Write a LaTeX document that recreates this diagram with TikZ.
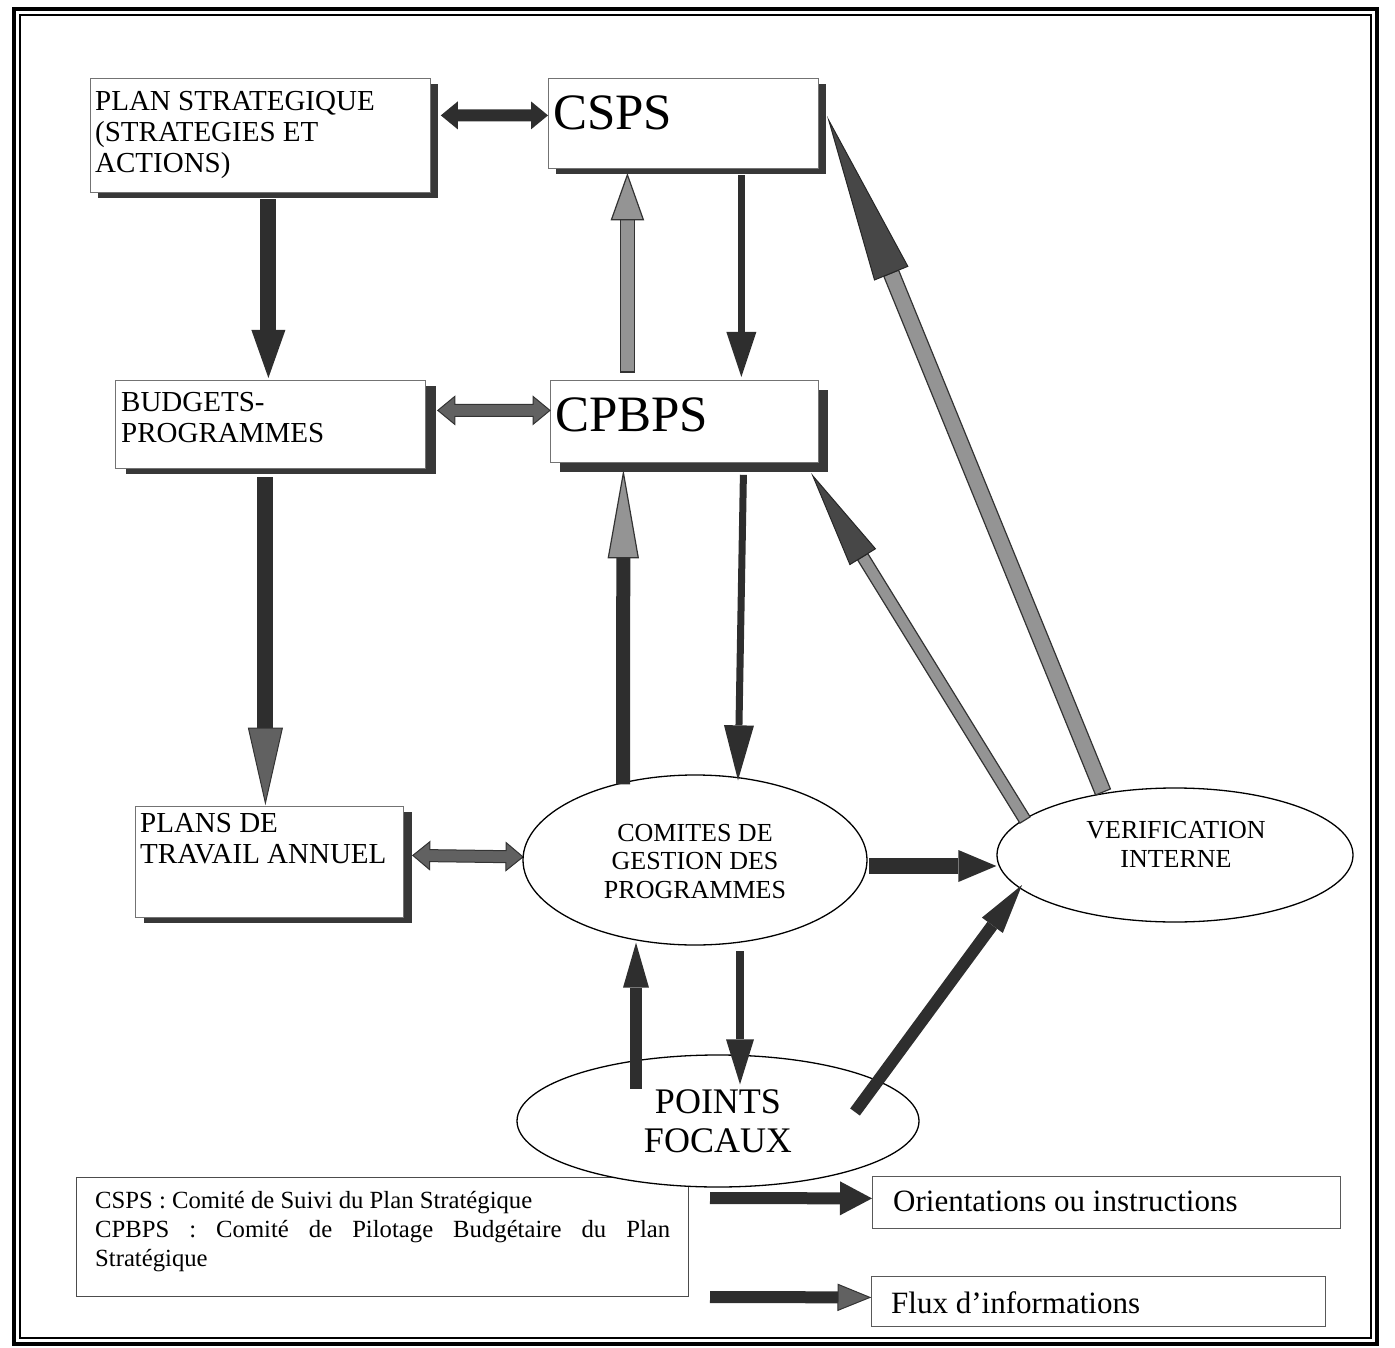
\documentclass[tikz,border=0pt]{standalone}
\usepackage{fontspec}
\setmainfont{Liberation Serif}
\usetikzlibrary{calc,shapes.geometric,shadows}

% single block arrow: #1 shaft style, #2 head style, #3 from, #4 to, #5 shaft half width, #6 head half width, #7 head length
\newcommand\blockarr[7]{%
  \coordinate (ba-s) at (#3);
  \coordinate (ba-e) at (#4);
  \coordinate (ba-h) at ($(ba-e)!#7!(ba-s)$);
  \path[#1] ($(ba-s)!#5!90:(ba-e)$) -- ($(ba-h)!#5!90:(ba-e)$) -- ($(ba-h)!#5!-90:(ba-e)$) -- ($(ba-s)!#5!-90:(ba-e)$) -- cycle;
  \path[#2] ($(ba-h)!#6!90:(ba-e)$) -- (ba-e) -- ($(ba-h)!#6!-90:(ba-e)$) -- cycle;
}
% double block arrow: #1 style, #2 from, #3 to, #4 shaft half width, #5 head half width, #6 head length
\newcommand\dblockarr[6]{%
  \coordinate (da-s) at (#2);
  \coordinate (da-e) at (#3);
  \coordinate (da-h1) at ($(da-s)!#6!(da-e)$);
  \coordinate (da-h2) at ($(da-e)!#6!(da-s)$);
  \path[#1] (da-s) -- ($(da-h1)!#5!90:(da-e)$) -- ($(da-h1)!#4!90:(da-e)$) -- ($(da-h2)!#4!90:(da-e)$)
    -- ($(da-h2)!#5!90:(da-e)$) -- (da-e) -- ($(da-h2)!#5!-90:(da-e)$) -- ($(da-h2)!#4!-90:(da-e)$)
    -- ($(da-h1)!#4!-90:(da-e)$) -- ($(da-h1)!#5!-90:(da-e)$) -- cycle;
}

\tikzset{
  boxsty/.style={draw=black!55, line width=0.8pt, fill=white, rectangle, inner sep=0pt, anchor=north west},
  shadowed/.style={drop shadow={shadow xshift=#1, shadow yshift=-6pt, fill=black!78, opacity=1}},
  ellsty/.style={draw=black, line width=1.3pt, fill=white, ellipse, inner sep=0pt},
  darkfill/.style={fill=black!82},
  grayfill/.style={fill=black!42, draw=black!80, line width=1.2pt},
  midfill/.style={fill=black!62, draw=black!80, line width=1pt},
  headdark/.style={fill=black!72, draw=black!85, line width=1pt},
  txt/.style={inner sep=0pt, align=left, anchor=north west},
  ctxt/.style={inner sep=0pt, align=center, anchor=north},
  bigbox/.style={font=\fontsize{29}{31}\selectfont},
  hugetxt/.style={font=\fontsize{51}{55}\selectfont},
  elltxt/.style={font=\fontsize{26}{28.5}\selectfont},
}

\begin{document}
\begin{tikzpicture}[x=1pt,y=-1pt]
\useasboundingbox (0,0) rectangle (1395,1348);

% frame
\draw[line width=4.5pt] (14,9) rectangle (1377,1344);
\draw[line width=1.2pt] (20,15) rectangle (1371,1338);

% boxes
\node[boxsty, shadowed=8pt, minimum width=340pt, minimum height=114pt] (plan) at (90,78) {};
\node[boxsty, shadowed=8pt, minimum width=270pt, minimum height=90pt] (csps) at (548,78) {};
\node[boxsty, shadowed=11pt, minimum width=310pt, minimum height=88pt] (budg) at (115,380) {};
\node[boxsty, minimum width=268pt, minimum height=82pt, drop shadow={shadow xshift=10pt, shadow yshift=-10pt, fill=black!78, opacity=1}] (cpbps) at (550,380) {};
\node[boxsty, shadowed=9pt, minimum width=268pt, minimum height=111pt] (plans) at (135,806) {};
\node[boxsty, draw=black!70, minimum width=612pt, minimum height=119pt] (legend) at (76,1177) {};
\node[boxsty, draw=black!65, minimum width=468pt, minimum height=52pt] (orient) at (872,1176) {};
\node[boxsty, draw=black!65, minimum width=454pt, minimum height=50pt] (flux) at (871,1276) {};

% box texts
\node[txt, bigbox] (plantxt) at (95,91) {PLAN STRATEGIQUE\\(STRATEGIES ET\\ACTIONS)};
\node[txt, hugetxt] (cspstxt) at (553,96) {CSPS};
\node[txt, bigbox] (budgtxt) at (121,392) {BUDGETS-\\PROGRAMMES};
\node[txt, hugetxt] (cpbpstxt) at (555,398) {CPBPS};
\node[txt, bigbox] (planstxt) at (140,813) {PLANS DE\\TRAVAIL ANNUEL};
\node[txt, font=\fontsize{24.7}{29}\selectfont] (legtxt) at (95,1191) {CSPS : Comité de Suivi du Plan Stratégique\\\makebox[575pt][s]{CPBPS : Comité de Pilotage Budgétaire du Plan}\\Stratégique};
\node[txt, font=\fontsize{31}{34}\selectfont] (orienttxt) at (893,1191) {Orientations ou instructions};
\node[txt, font=\fontsize{31}{34}\selectfont] (fluxtxt) at (891,1291) {Flux d’informations};

% arrows between upper boxes
\dblockarr{darkfill}{[shift={(10,-20)}]plan.east}{[shift={(0,-8)}]csps.west}{6pt}{14pt}{17pt}
\dblockarr{midfill}{[shift={(12,-14)}]budg.east}{[shift={(0,-11)}]cpbps.west}{6pt}{14pt}{17pt}
\blockarr{darkfill}{darkfill}{[shift={(8,6)}]plan.south}{[shift={(-2,-2)}]budg.north}{8pt}{17pt}{48pt}
\blockarr{grayfill}{grayfill}{[shift={(-57,-8)}]cpbps.north}{[shift={(-56,6)}]csps.south}{7pt}{16pt}{45pt}
\blockarr{darkfill}{darkfill}{[shift={(58,6)}]csps.south}{[shift={(57,-3)}]cpbps.north}{3.5pt}{15pt}{45pt}
\blockarr{darkfill}{midfill}{[shift={(-5,8)}]budg.south}{[shift={(-4,-3)}]plans.north}{8pt}{17pt}{75pt}
\dblockarr{midfill}{[shift={(9,-6.5)}]plans.east}{[shift={(0,-5)}]plans.east -| 523,0}{6pt}{14pt}{17pt}

% ellipses
\node[ellsty, minimum width=344pt, minimum height=170pt] (comites) at (695,860) {};
\node[ellsty, minimum width=356pt, minimum height=134pt] (verif) at (1175,855) {};
\node[ellsty, minimum width=402pt, minimum height=132pt] (points) at (718,1121) {};

\node[ctxt, elltxt] (comitestxt) at (695,824) {COMITES DE\\GESTION DES\\PROGRAMMES};
\node[ctxt, font=\fontsize{26}{29}\selectfont] (veriftxt) at (1176,821) {VERIFICATION\\INTERNE};
\node[ctxt, font=\fontsize{36}{39}\selectfont] (pointstxt) at (718,1089) {POINTS\\FOCAUX};

% arrows around the ellipses
\blockarr{darkfill}{grayfill}{[shift={(-72,10)}]comites.north}{[shift={(-61,10)}]cpbps.south}{7pt}{15pt}{85pt}
\blockarr{darkfill}{darkfill}{[shift={(59,12)}]cpbps.south}{[shift={(43,6)}]comites.north}{3.5pt}{15pt}{55pt}
\blockarr{grayfill}{headdark}{[shift={(-150,-35)}]verif.center}{[shift={(-6,13)}]cpbps.south east}{6pt}{15pt}{95pt}
\blockarr{grayfill}{headdark}{[shift={(-72,-63)}]verif.center}{[shift={(10,-3)}]csps.east}{8pt}{18pt}{165pt}
\blockarr{darkfill}{darkfill}{[shift={(1,6)}]comites.east}{[shift={(0,11)}]verif.west}{8pt}{16pt}{38pt}
\blockarr{darkfill}{darkfill}{[shift={(45,5)}]comites.south}{[shift={(22,30)}]points.north}{4pt}{14pt}{45pt}
\blockarr{darkfill}{darkfill}{[shift={(-82,35)}]points.north}{[shift={(-59,-3)}]comites.south}{6pt}{13pt}{45pt}
\blockarr{darkfill}{darkfill}{[shift={(137,-9)}]points.center}{[shift={(-153,30)}]verif.center}{6pt}{13pt}{50pt}

% legend arrows
\coordinate (leg1) at (710,1198);
\coordinate (leg2) at (710,1297);
\blockarr{darkfill}{darkfill}{leg1}{[shift={(0,-4)}]orient.west}{6pt}{17pt}{32pt}
\blockarr{darkfill}{midfill}{leg2}{[shift={(-1,-4)}]flux.west}{6pt}{13pt}{32pt}
\end{tikzpicture}
\end{document}
